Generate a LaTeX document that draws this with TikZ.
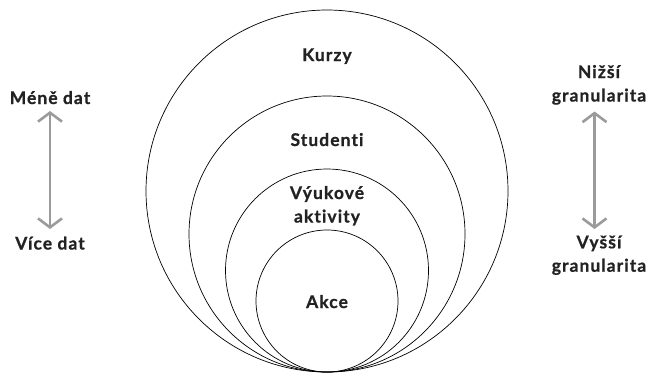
\documentclass[tikz,border=0pt]{standalone}
\usepackage{fontspec}
\setmainfont{Lato}[LetterSpace=6,Ligatures=NoCommon,BoldFeatures={FakeBold=0.8}]
\usetikzlibrary{arrows.meta}
\definecolor{txt}{HTML}{222222}
\definecolor{arrgray}{HTML}{9B9B9B}
\tikzset{
  lbl/.style={anchor=base, inner sep=0pt, text=txt, font=\fontsize{17.5bp}{23.5bp}\selectfont\bfseries, align=center},
  ring/.style={draw=black, line width=0.7bp},
  dblarrow/.style={draw=arrgray, line width=2.6bp, {Straight Barb[length=9bp,width=24bp]}-{Straight Barb[length=9bp,width=24bp]}}
}
\begin{document}
\begin{tikzpicture}[x=1bp,y=-1bp]
\useasboundingbox (0,0) rectangle (648,373);
% nested circles tangent at bottom (327,372)
\draw[ring] (327,191) circle[radius=181];
\draw[ring] (327,234) circle[radius=138];
\draw[ring] (327,270.5) circle[radius=101.5];
\draw[ring] (327,301) circle[radius=71];
% circle labels
\node[lbl] (kurzy) at (327,61) {Kurzy};
\node[lbl] (stud) at (327,146) {Studenti};
\node[lbl] (vyuk) at (327,199) {Výukové};
\node[lbl] (akt) at (327,222.5) {aktivity};
\node[lbl] (akce) at (327,308) {Akce};
% left side
\node[lbl] (mene) at (50,104) {Méně dat};
\node[lbl] (vice) at (50,249.5) {Více dat};
\coordinate (l1) at (50,111);
\coordinate (l2) at (50,229);
\draw[dblarrow] (l1) -- (l2);
% right side
\node[lbl] (nizsi) at (599,78) {Nižší};
\node[lbl] (gr1) at (599,101.5) {granularita};
\node[lbl] (vyssi) at (599,248.3) {Vyšší};
\node[lbl] (gr2) at (599,271.7) {granularita};
\coordinate (r1) at (594.5,111.5);
\coordinate (r2) at (594.5,229);
\draw[dblarrow] (r1) -- (r2);
\end{tikzpicture}
\end{document}
